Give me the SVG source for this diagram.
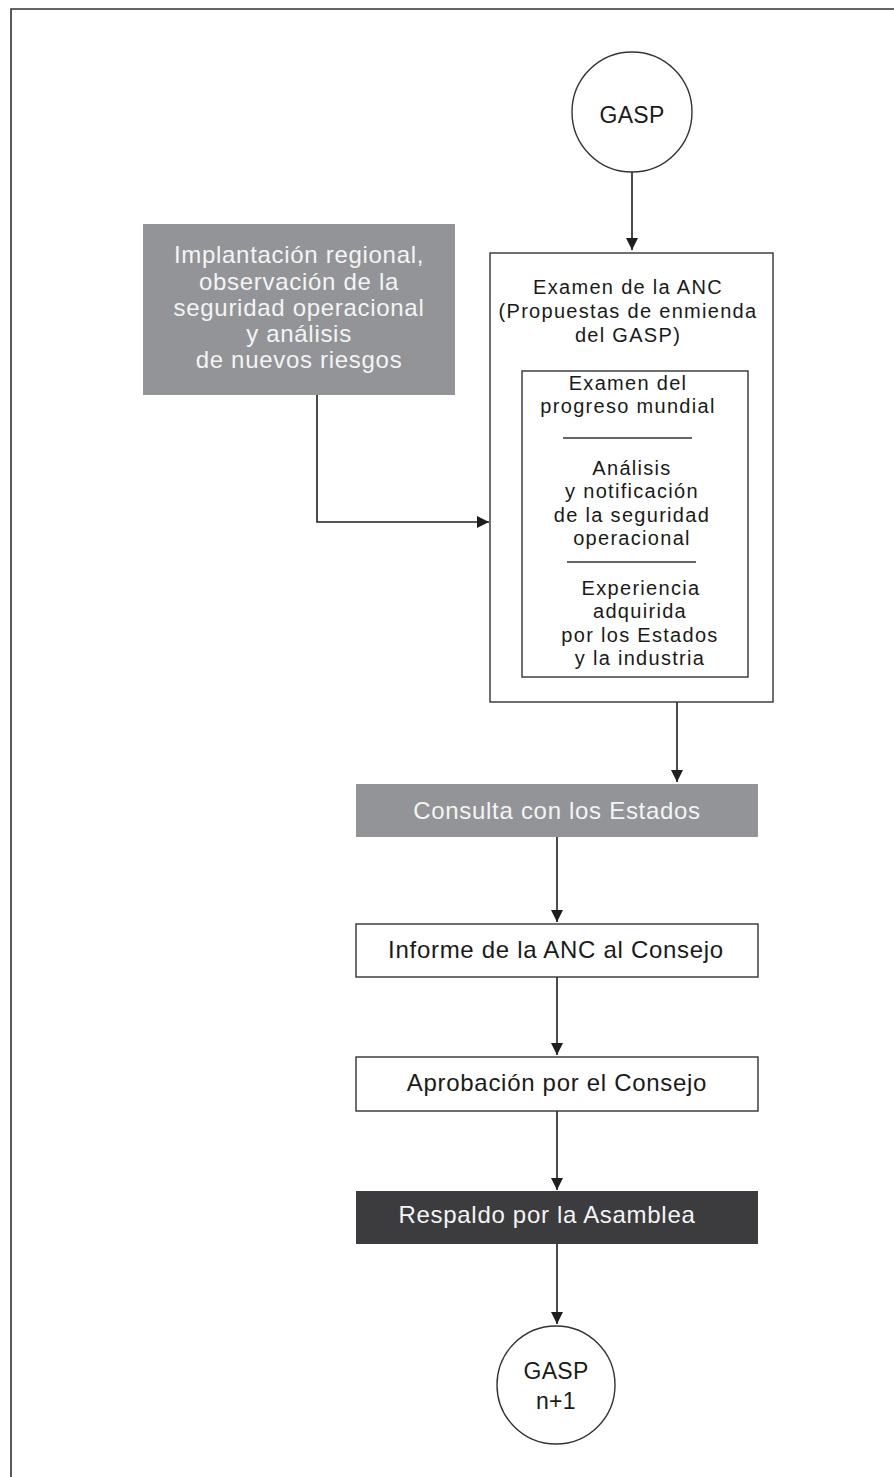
<svg xmlns="http://www.w3.org/2000/svg" width="894" height="1477" viewBox="0 0 894 1477">
<defs>
<style>
.t{font-family:"Liberation Sans",Arial,sans-serif;text-anchor:middle;}
.lg{font-size:24px;letter-spacing:0.7px;}
.md{font-size:20px;letter-spacing:1.3px;fill:#1a1a1a;}
.wt{fill:#f4f4f4;}
.dk{fill:#1a1a1a;}
.box{fill:#fff;stroke:#333;stroke-width:1.4;}
.gray{fill:#929497;}
.dark{fill:#3c3c3e;}
.edge{fill:none;stroke:#1e1e1e;stroke-width:1.6;marker-end:url(#arr);}
</style>
<marker id="arr" viewBox="0 0 12 12" refX="12" refY="6" markerWidth="12" markerHeight="12" markerUnits="userSpaceOnUse" orient="auto">
<path d="M0,0 L12,6 L0,12 z" fill="#1e1e1e"/>
</marker>
</defs>
<rect width="894" height="1477" fill="#fff"/>
<g id="frame">
<path d="M11,1477 L11,9 L894,9" fill="none" stroke="#333" stroke-width="1.6"/>
</g>
<g id="connectors">
<path class="edge" d="M632,172 L632,250"/>
<path class="edge" d="M317,395 L317,522 L489,522"/>
<path class="edge" d="M677,702 L677,782"/>
<path class="edge" d="M557,837 L557,922"/>
<path class="edge" d="M557,977 L557,1055"/>
<path class="edge" d="M557,1111 L557,1190"/>
<path class="edge" d="M557,1244 L557,1324"/>
</g>
<g id="gasp">
<circle cx="632" cy="112" r="60" fill="#fff" stroke="#333" stroke-width="1.4"/>
<text class="t dk" x="632" y="123" font-size="23" letter-spacing="0.3">GASP</text>
</g>
<g id="implantacion">
<rect class="gray" x="143" y="224" width="312" height="171"/>
<text class="t lg wt" x="299" y="263">Implantación regional,</text>
<text class="t lg wt" x="299" y="289.5">observación de la</text>
<text class="t lg wt" x="299" y="316">seguridad operacional</text>
<text class="t lg wt" x="299" y="342">y análisis</text>
<text class="t lg wt" x="299" y="368">de nuevos riesgos</text>
</g>
<g id="examen-anc">
<rect class="box" x="490" y="253" width="283" height="449"/>
<text class="t md" x="628" y="294">Examen de la ANC</text>
<text class="t md" x="628" y="318">(Propuestas de enmienda</text>
<text class="t md" x="628" y="342">del GASP)</text>
</g>
<g id="examen-inner">
<rect class="box" x="522" y="371" width="226" height="306"/>
<text class="t md" x="628" y="390">Examen del</text>
<text class="t md" x="628" y="413">progreso mundial</text>
<line x1="563" y1="438" x2="692" y2="438" stroke="#333" stroke-width="1.3"/>
<text class="t md" x="632" y="475">Análisis</text>
<text class="t md" x="632" y="498">y notificación</text>
<text class="t md" x="632" y="522">de la seguridad</text>
<text class="t md" x="632" y="545">operacional</text>
<line x1="567" y1="562" x2="696" y2="562" stroke="#333" stroke-width="1.3"/>
<text class="t md" x="641" y="595">Experiencia</text>
<text class="t md" x="640" y="618">adquirida</text>
<text class="t md" x="640" y="642">por los Estados</text>
<text class="t md" x="640" y="665">y la industria</text>
</g>
<g id="consulta">
<rect class="gray" x="356" y="784" width="402" height="53"/>
<text class="t lg wt" x="557" y="819">Consulta con los Estados</text>
</g>
<g id="informe">
<rect class="box" x="356" y="924" width="402" height="53"/>
<text class="t lg dk" x="556" y="958">Informe de la ANC al Consejo</text>
</g>
<g id="aprobacion">
<rect class="box" x="356" y="1057" width="402" height="54"/>
<text class="t lg dk" x="557" y="1091">Aprobación por el Consejo</text>
</g>
<g id="respaldo">
<rect class="dark" x="356" y="1191" width="402" height="53"/>
<text class="t lg wt" x="547" y="1223">Respaldo por la Asamblea</text>
</g>
<g id="gasp-n1">
<circle cx="556" cy="1385" r="59" fill="#fff" stroke="#333" stroke-width="1.4"/>
<text class="t dk" x="556" y="1379" font-size="23" letter-spacing="0.3">GASP</text>
<text class="t dk" x="556" y="1409" font-size="23" letter-spacing="0.3">n+1</text>
</g>
</svg>
